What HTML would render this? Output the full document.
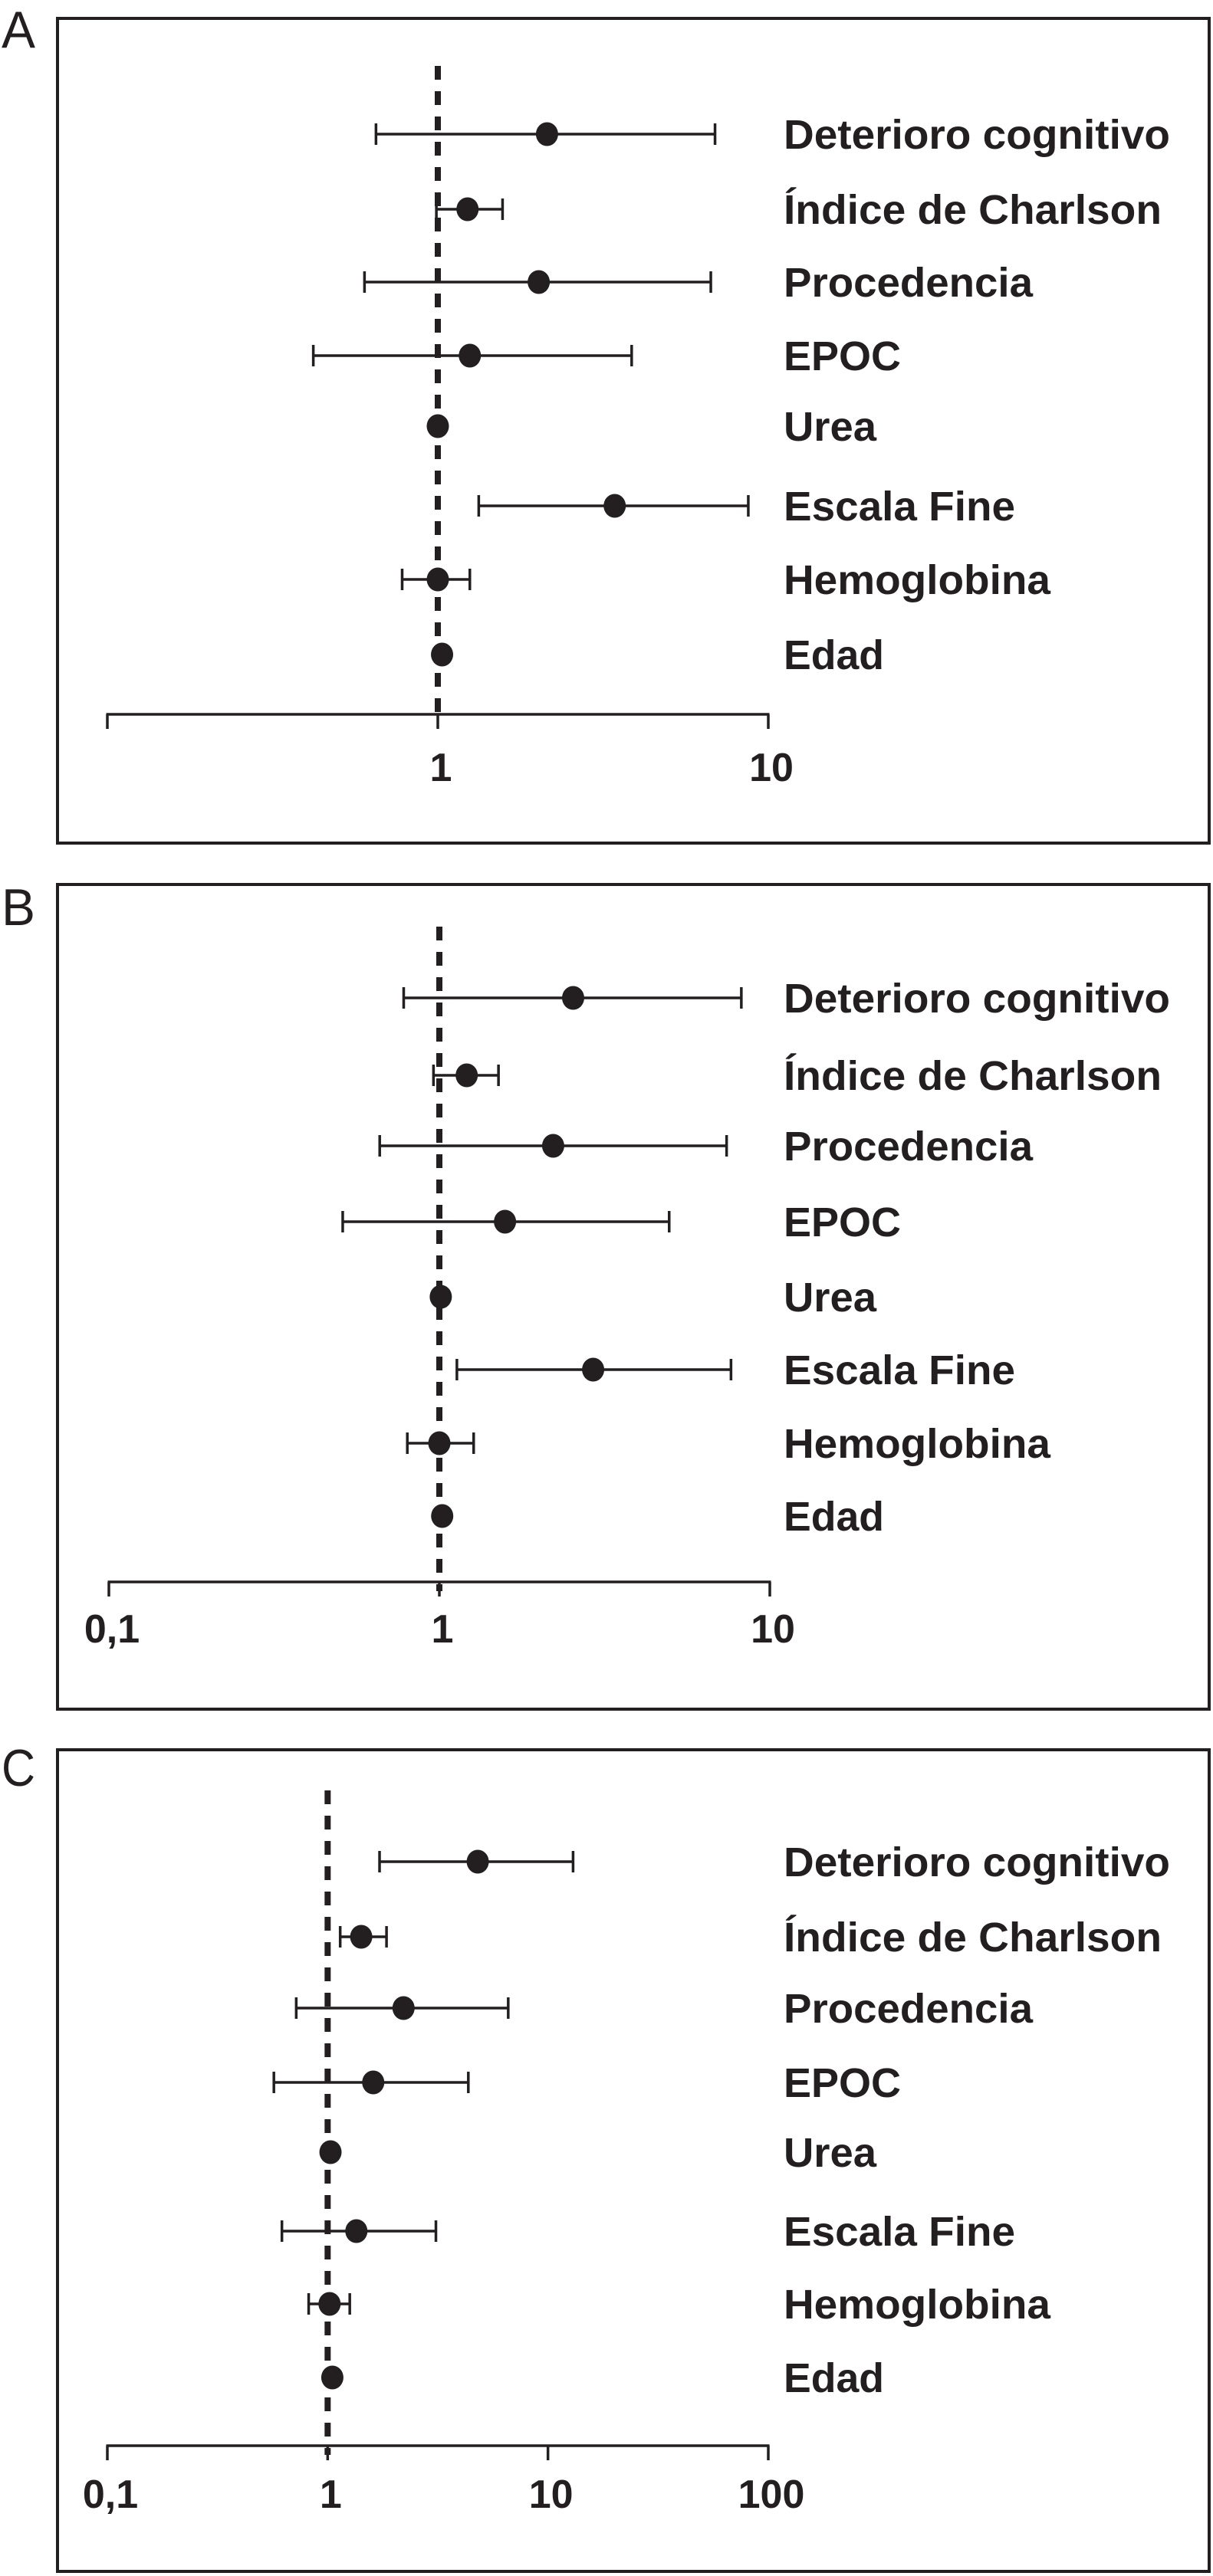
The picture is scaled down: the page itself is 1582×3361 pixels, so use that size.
<!DOCTYPE html>
<html><head><meta charset="utf-8"><style>
html,body{margin:0;padding:0;background:#fff;}
svg{display:block;}
text{font-family:"Liberation Sans Narrow","Liberation Sans",sans-serif;fill:#231f20;}
</style></head><body>
<svg id="chart" width="1582" height="3361" viewBox="0 0 1582 3361" xmlns="http://www.w3.org/2000/svg"></svg>
<script>
const categories = ["Deterioro cognitivo","Índice de Charlson","Procedencia","EPOC","Urea","Escala Fine","Hemoglobina","Edad"];
const aPoint = [2.14,1.23,2.02,1.25,1.0,3.43,1.0,1.03];
const aLow   = [0.65,0.99,0.60,0.42,null,1.33,0.78,null];
const aHigh  = [6.9,1.57,6.7,3.86,null,8.7,1.25,null];
const bPoint = [2.54,1.21,2.21,1.58,1.01,2.92,1.0,1.02];
const bLow   = [0.78,0.96,0.66,0.51,null,1.13,0.80,null];
const bHigh  = [8.2,1.51,7.4,4.96,null,7.63,1.27,null];
const cPoint = [4.8,1.42,2.21,1.61,1.03,1.35,1.02,1.05];
const cLow   = [1.72,1.14,0.72,0.57,null,0.62,0.82,null];
const cHigh  = [13,1.85,6.6,4.35,null,3.1,1.26,null];
const aTicks = [0.1,1,10];
const aTickLabels = ["","1","10"];
const bTicks = [0.1,1,10];
const bTickLabels = ["0,1","1","10"];
const cTicks = [0.1,1,10,100];
const cTickLabels = ["0,1","1","10","100"];
const labelWidths = [504,493,325,153,121,302,348,131];

const NS="http://www.w3.org/2000/svg";
const svg=document.getElementById('chart');
function mk(tag,attrs,parent){const e=document.createElementNS(NS,tag);for(const k in attrs)e.setAttribute(k,attrs[k]);(parent||svg).appendChild(e);return e;}

const panels=[
 {letter:"A",top:24,bottom:1100,letterY:62,dashTop:86,axisY:932,tickLblY:1019,rows:[175,273,368,464,556,660,756,854],pt:aPoint,lo:aLow,hi:aHigh,ticks:aTicks,tl:aTickLabels,x0:140,x1:1002,dmin:0.1,dmax:10},
 {letter:"B",top:1154,bottom:2230,letterY:1207,dashTop:1209,axisY:2064,tickLblY:2143,rows:[1302,1403,1495,1594,1692,1787,1883,1978],pt:bPoint,lo:bLow,hi:bHigh,ticks:bTicks,tl:bTickLabels,x0:142,x1:1004,dmin:0.1,dmax:10},
 {letter:"C",top:2283,bottom:3355,letterY:2330,dashTop:2336,axisY:3191,tickLblY:3272,rows:[2429,2527,2620,2717,2808,2911,3006,3102],pt:cPoint,lo:cLow,hi:cHigh,ticks:cTicks,tl:cTickLabels,x0:140,x1:1002,dmin:0.1,dmax:100}
];

panels.forEach(p=>{
  const g=mk('g',{});
  
  
  const xs=v=>p.x0+(Math.log10(v)-Math.log10(p.dmin))/(Math.log10(p.dmax)-Math.log10(p.dmin))*(p.x1-p.x0);
  const lt=mk('text',{x:2,y:p.letterY,'font-size':68,textLength:44,lengthAdjust:'spacingAndGlyphs'},g);lt.textContent=p.letter;
  
  
  const fr=mk('rect',{x:75,y:p.top,width:1502,height:p.bottom-p.top,fill:'none',stroke:'#231f20','stroke-width':4},g);
  
  
  const rl=mk('line',{x1:xs(1),x2:xs(1),y1:p.dashTop,y2:p.axisY+12,stroke:'#231f20','stroke-width':8,'stroke-dasharray':'18 15'},g);
  
  
  const ax=mk('line',{x1:p.x0-1.5,x2:p.x1+1.5,y1:p.axisY,y2:p.axisY,stroke:'#231f20','stroke-width':3.5},g);
  
  
  p.ticks.forEach((t,i)=>{
    const tk=mk('line',{x1:xs(t),x2:xs(t),y1:p.axisY,y2:p.axisY+19,stroke:'#231f20','stroke-width':3.5},g);
    
    
    if(p.tl[i]){
      const tx=mk('text',{x:xs(t)+4,y:p.tickLblY,'font-size':52,'font-weight':'bold','text-anchor':'middle'},g);
      tx.textContent=p.tl[i];
      
      
    }
  });
  categories.forEach((c,i)=>{
    const y=p.rows[i];
    if(p.lo[i]!=null){
      const l=mk('line',{x1:xs(p.lo[i]),x2:xs(p.hi[i]),y1:y,y2:y,stroke:'#231f20','stroke-width':3.5},g);
      
      
      [p.lo[i],p.hi[i]].forEach(v=>{
        const cp=mk('line',{x1:xs(v),x2:xs(v),y1:y-14,y2:y+14,stroke:'#231f20','stroke-width':3.5},g);
        
        
      });
    }
    const d=mk('ellipse',{cx:xs(p.pt[i]),cy:y,rx:14.5,ry:15.5,fill:'#231f20'},g);
    
    
    const lb=mk('text',{x:1022,y:y+19,'font-size':54,'font-weight':'bold',textLength:labelWidths[i],lengthAdjust:'spacingAndGlyphs'},g);
    lb.textContent=c;
    
    
  });
});
</script>
</body></html>
